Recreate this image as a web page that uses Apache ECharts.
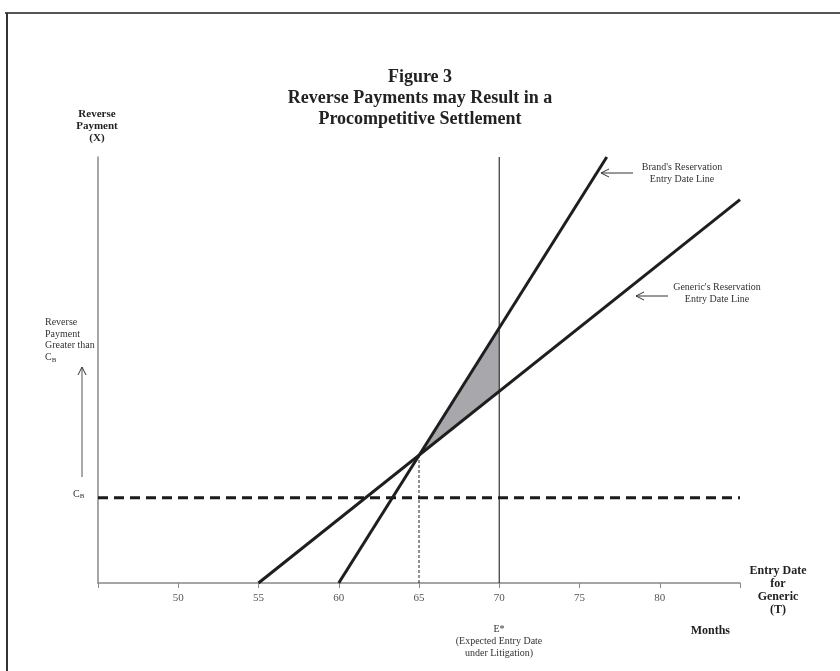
<!DOCTYPE html>
<html>
<head>
<meta charset="utf-8">
<script src="https://cdn.jsdelivr.net/npm/echarts@6/dist/echarts.min.js"></script>
<style>
html,body{margin:0;padding:0;background:#fff;}
#chart{width:840px;height:671px;}
</style>
</head>
<body>
<div id="chart"></div>
<script>
// ---- data ----
var xTicks = [45, 50, 55, 60, 65, 70, 75, 80, 85];
var brandLine = [[60, 0], [76.7, 100]];      // Brand's reservation entry date line
var genericLine = [[55, 0], [85, 90]];       // Generic's reservation entry date line
var expectedEntry = [[70, 0], [70, 100]];    // E* vertical line
var intersectionDrop = [[65, 0], [65, 30]];  // dotted drop line
var costLine = [[45, 20], [85, 20]];         // C_B dashed line
var shadedRegion = [[65, 30], [70, 60], [70, 45]];

var serif = '"Liberation Serif", "DejaVu Serif", serif';
var chart = echarts.init(document.getElementById('chart'));

function arrowLeft(x1, x2, y) {
  return [
    {type:'line', shape:{x1:x1, y1:y, x2:x2, y2:y}, style:{stroke:'#333', lineWidth:1}},
    {type:'polyline', shape:{points:[[x2+8, y-4],[x2, y],[x2+8, y+4]]}, style:{stroke:'#333', lineWidth:1, fill:null}}
  ];
}
var sub = {c:{font:'10px ' + serif, fill:'#333'}, s:{font:'7px ' + serif, fill:'#333', padding:[5,0,0,0]}};

var graphics = [
  {type:'line', shape:{x1:5, y1:13, x2:840, y2:13}, style:{stroke:'#555', lineWidth:2}},
  {type:'line', shape:{x1:7, y1:13, x2:7, y2:671}, style:{stroke:'#333', lineWidth:2}},
  {type:'text', x:420, y:98, style:{text:'Figure 3\nReverse Payments may Result in a\nProcompetitive Settlement', font:'bold 18px ' + serif, fill:'#222', align:'center', verticalAlign:'middle', lineHeight:21}},
  {type:'text', x:97, y:126, style:{text:'Reverse\nPayment\n(X)', font:'bold 11px ' + serif, fill:'#222', align:'center', verticalAlign:'middle', lineHeight:12}},
  {type:'text', x:45, y:340, style:{text:'Reverse\nPayment\nGreater than\n{c|C}{s|B}', font:'10px ' + serif, fill:'#333', align:'left', verticalAlign:'middle', lineHeight:11.5, rich:sub}},
  {type:'line', shape:{x1:82, y1:477, x2:82, y2:367}, style:{stroke:'#555', lineWidth:1}},
  {type:'polyline', shape:{points:[[78, 375],[82, 367],[86, 375]]}, style:{stroke:'#333', lineWidth:1, fill:null}},
  {type:'text', x:73, y:494, style:{text:'{c|C}{s|B}', verticalAlign:'middle', rich:sub}},
  {type:'text', x:682, y:173, style:{text:"Brand's Reservation\nEntry Date Line", font:'10px ' + serif, fill:'#333', align:'center', verticalAlign:'middle', lineHeight:12}},
  {type:'text', x:717, y:293, style:{text:"Generic's Reservation\nEntry Date Line", font:'10px ' + serif, fill:'#333', align:'center', verticalAlign:'middle', lineHeight:12}},
  {type:'text', x:730, y:631, style:{text:'Months', font:'bold 12px ' + serif, fill:'#222', align:'right', verticalAlign:'middle'}},
  {type:'text', x:778, y:590, style:{text:'Entry Date\nfor\nGeneric\n(T)', font:'bold 12px ' + serif, fill:'#222', align:'center', verticalAlign:'middle', lineHeight:13}},
  {type:'text', x:499, y:641, style:{text:'E*\n(Expected Entry Date\nunder Litigation)', font:'10px ' + serif, fill:'#333', align:'center', verticalAlign:'middle', lineHeight:12}}
].concat(arrowLeft(633, 601, 173)).concat(arrowLeft(668, 636, 296));

var thick = {color:'#1e1e1e', width:3};

chart.setOption({
  animation:false,
  backgroundColor:'#fff',
  grid:{left:98, right:100, top:157, bottom:88, containLabel:false},
  xAxis:{
    type:'value', min:xTicks[0], max:xTicks[xTicks.length-1], interval:5,
    axisLine:{show:true, lineStyle:{color:'#888', width:1.5}},
    axisTick:{show:true, inside:false, length:5, lineStyle:{color:'#888'}},
    axisLabel:{color:'#555', fontFamily:serif, fontSize:11, margin:10,
      formatter:function(v){ return (v===xTicks[0]||v===xTicks[xTicks.length-1]) ? '' : String(v); }},
    splitLine:{show:false}
  },
  yAxis:{
    type:'value', min:0, max:100,
    axisLine:{show:true, lineStyle:{color:'#888', width:1.5}},
    axisTick:{show:false}, axisLabel:{show:false}, splitLine:{show:false}
  },
  graphic:graphics,
  series:[
    {type:'custom', name:'shade', z:1, silent:true,
      renderItem:function(params, api){
        var pts = shadedRegion.map(function(p){ return api.coord(p); });
        return {type:'polygon', shape:{points:pts}, style:{fill:'#a8a8ac', stroke:'none'}};
      },
      data:[0]},
    {type:'line', name:'E*', data:expectedEntry, symbol:'none', lineStyle:{color:'#333', width:1.2}, z:2},
    {type:'line', name:'drop', data:intersectionDrop, symbol:'none', lineStyle:{color:'#222', width:1, type:[3,2]}, z:2},
    {type:'line', name:'CB', data:costLine, symbol:'none', lineStyle:{color:'#1a1a1a', width:3, type:[10,6]}, z:3},
    {type:'line', name:'Brand', data:brandLine, symbol:'none', lineStyle:thick, z:4},
    {type:'line', name:'Generic', data:genericLine, symbol:'none', lineStyle:thick, z:4}
  ]
});
</script>
</body>
</html>
